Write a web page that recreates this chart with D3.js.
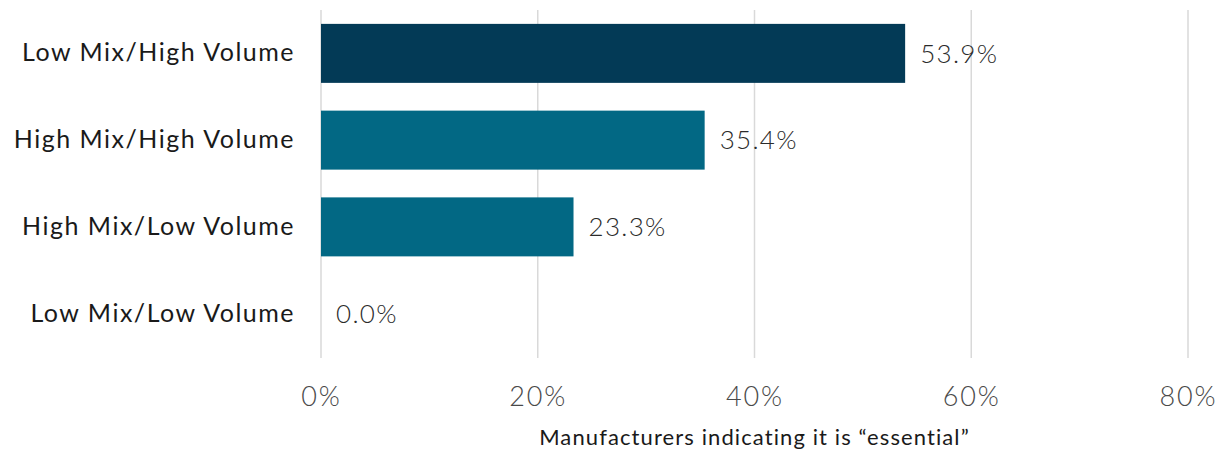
<!DOCTYPE html>
<html>
<head>
<meta charset="utf-8">
<script src="https://cdn.jsdelivr.net/npm/d3@7"></script>
<style>
  body { margin: 0; background: #fff; }
  svg { display: block; font-family: Lato, "Noto Sans", sans-serif; }
</style>
</head>
<body>
<div id="viz"></div>
<script>
const margin = {top: 10, right: 37, bottom: 98, left: 321};
const width = 1225;
const height = 455;

const categories = ['Low Mix/High Volume', 'High Mix/High Volume', 'High Mix/Low Volume', 'Low Mix/Low Volume'];
const values = [53.9, 35.4, 23.3, 0.0];
const barColors = ['#033a56', '#026884', '#026884', '#026884'];
const xTicks = [0, 20, 40, 60, 80];
const xTitle = 'Manufacturers indicating it is \u201cessential\u201d';

const data = categories.map((c, i) => ({category: c, value: values[i], color: barColors[i]}));

const scaleX = d3.scaleLinear()
  .domain([0, 80])
  .range([margin.left, width - margin.right]);

const scaleY = d3.scaleBand()
  .domain(categories)
  .range([margin.top, height - margin.bottom])
  .paddingInner(0.32)
  .paddingOuter(0.16);

const svg = d3.select('#viz')
  .append('svg')
    .attr('viewBox', [0, 0, width, height])
    .attr('width', width)
    .attr('height', height);

// gridlines
svg.append('g')
  .selectAll('line')
  .data(xTicks)
  .join('line')
    .attr('x1', d => scaleX(d))
    .attr('x2', d => scaleX(d))
    .attr('y1', margin.top)
    .attr('y2', height - margin.bottom + 1)
    .attr('stroke', '#d9d9d9')
    .attr('stroke-width', 1.5);

// bars
svg.append('g')
  .selectAll('rect')
  .data(data)
  .join('rect')
    .attr('x', scaleX(0))
    .attr('y', d => scaleY(d.category))
    .attr('width', d => scaleX(d.value) - scaleX(0))
    .attr('height', scaleY.bandwidth())
    .attr('fill', d => d.color);

// value labels
svg.append('g')
  .selectAll('text')
  .data(data)
  .join('text')
    .attr('x', d => scaleX(d.value) + 15)
    .attr('y', d => scaleY(d.category) + scaleY.bandwidth() / 2)
    .attr('dy', '0.36em')
    .attr('font-size', 26)
    .attr('font-weight', 300)
    .attr('letter-spacing', '1.3px')
    .attr('fill', '#2b2b2b')
    .text(d => d.value.toFixed(1) + '%');

// category axis
const axisLeft = d3.axisLeft(scaleY).tickSize(0).tickPadding(26);
svg.append('g')
  .attr('transform', `translate(${margin.left},0)`)
  .call(axisLeft)
  .call(g => g.select('.domain').remove())
  .call(g => g.selectAll('text')
    .attr('font-size', 25)
    .attr('letter-spacing', '1.5px')
    .attr('font-family', 'Lato, "Noto Sans", sans-serif')
    .attr('fill', '#1a1a1a'));

// x axis
const axisBottom = d3.axisBottom(scaleX)
  .tickValues(xTicks)
  .tickFormat(d => d + '%')
  .tickSize(0)
  .tickPadding(20);
svg.append('g')
  .attr('transform', `translate(0,${height - margin.bottom + 10})`)
  .call(axisBottom)
  .call(g => g.select('.domain').remove())
  .call(g => g.selectAll('text')
    .attr('font-size', 27)
    .attr('font-weight', 300)
    .attr('letter-spacing', '1.8px')
    .attr('font-family', 'Lato, "Noto Sans", sans-serif')
    .attr('fill', '#4a4a4a'));

svg.append('text')
  .attr('x', (scaleX(0) + scaleX(80)) / 2)
  .attr('y', 445)
  .attr('text-anchor', 'middle')
  .attr('font-size', 22)
  .attr('letter-spacing', '1.1px')
  .attr('fill', '#1a1a1a')
  .text(xTitle);
</script>
</body>
</html>
